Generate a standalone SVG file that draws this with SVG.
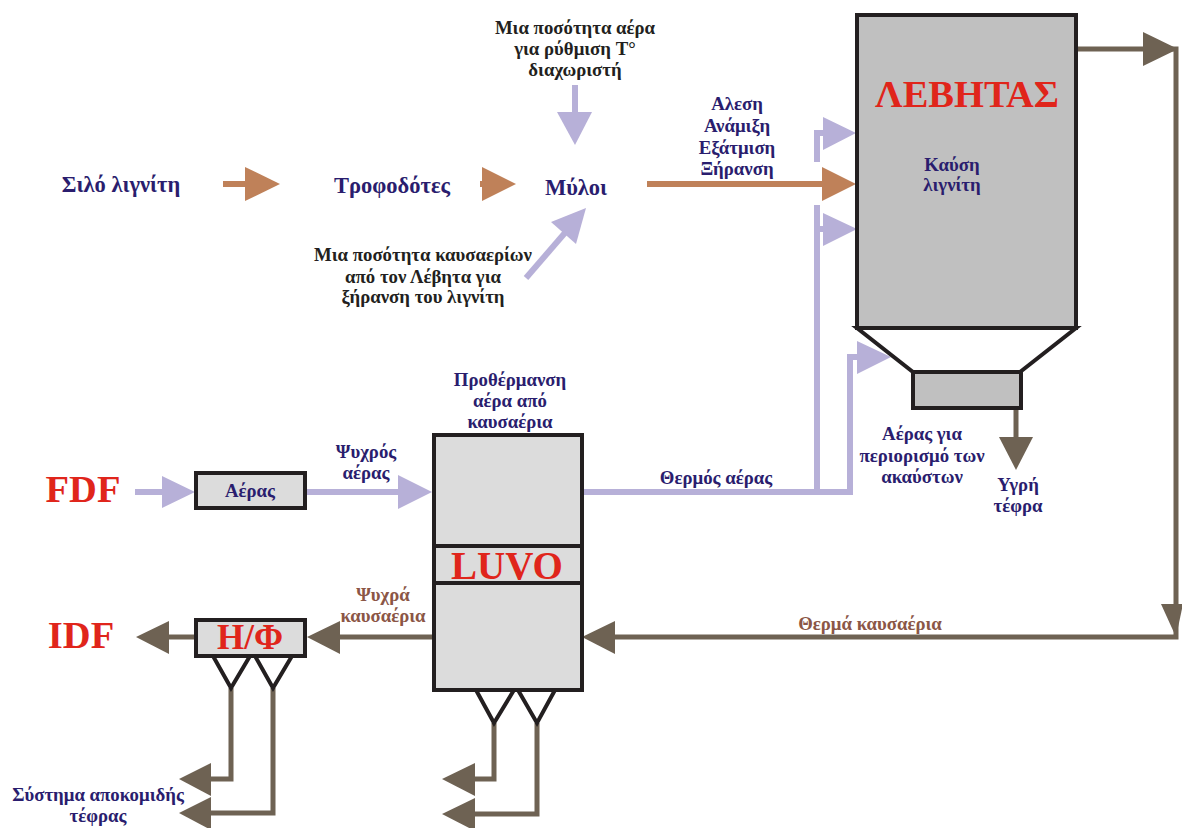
<svg xmlns="http://www.w3.org/2000/svg" width="1182" height="828" viewBox="0 0 1182 828">
<style>
text{font-family:"Liberation Serif","Times New Roman",serif;font-weight:bold;text-anchor:middle}
.nv{fill:#2a1d6e;font-size:22.5px}
.sm{fill:#2a1d6e;font-size:18.8px}
.bk{fill:#231f20;font-size:18.8px}
.br{fill:#8b5646;font-size:18.8px}
.red{fill:#e0251b}
.box{stroke:#231f20;stroke-width:4}
.lav{stroke:#b7b0d8;stroke-width:6;fill:none}
.lavf{fill:#b7b0d8}
.or{stroke:#bf8159;stroke-width:6;fill:none}
.orf{fill:#bf8159}
.gr{stroke:#6e6253;stroke-width:5;fill:none}
.grf{fill:#6e6253}
.fun{stroke:#231f20;stroke-width:4;fill:none}
</style>
<rect width="1182" height="828" fill="#fff"/>
<g id="connectors">
  <line class="or" x1="223" y1="184" x2="250" y2="184"/>
  <polygon class="orf" points="245,167 280,184 245,201"/>
  <line class="or" x1="480" y1="184" x2="486" y2="184"/>
  <polygon class="orf" points="482,167 516,184 482,201"/>
  <line class="or" x1="647" y1="184" x2="828" y2="184"/>
  <polygon class="orf" points="822,167 856,184 822,201"/>
  <line class="lav" x1="575" y1="85" x2="575" y2="116"/>
  <polygon class="lavf" points="557,112 592,112 575,145"/>
  <line class="lav" x1="526" y1="278" x2="570" y2="227"/>
  <polygon class="lavf" points="586,208 576,244 551,222"/>
  <line class="lav" x1="135" y1="492" x2="166" y2="492"/>
  <polygon class="lavf" points="162,476 195,492 162,508"/>
  <line class="lav" x1="305" y1="492" x2="402" y2="492"/>
  <polygon class="lavf" points="398,475 432,492 398,509"/>
  <polyline class="lav" points="582,492 850,492 850,357 860,357"/>
  <polygon class="lavf" points="857,341 891,357 857,374"/>
  <line class="lav" x1="817" y1="205" x2="817" y2="492"/>
  <line class="lav" x1="817" y1="229" x2="828" y2="229"/>
  <polygon class="lavf" points="823,213 857,229 823,246"/>
  <polyline class="lav" points="817,162 817,133 828,133"/>
  <polygon class="lavf" points="823,117 856,133 823,150"/>
  <polyline class="gr" points="1075,49 1176,49 1176,637 612,637"/>
  <polygon class="grf" points="1143,32 1178,49 1143,66"/>
  <polygon class="grf" points="1161,604 1183,604 1176,637"/>
  <polygon class="grf" points="615,621 582,637 615,654"/>
  <line class="gr" x1="1016" y1="408" x2="1016" y2="440"/>
  <polygon class="grf" points="999,437 1033,437 1016,470"/>
  <line class="gr" x1="434" y1="637" x2="336" y2="637"/>
  <polygon class="grf" points="340,621 307,637 340,654"/>
  <line class="gr" x1="196" y1="637" x2="165" y2="637"/>
  <polygon class="grf" points="169,621 136,637 169,654"/>
  <polyline class="gr" points="231,688 231,779 206,779"/>
  <polygon class="grf" points="211,763 179,779 211,796"/>
  <polyline class="gr" points="273,688 273,813 206,813"/>
  <polygon class="grf" points="211,797 179,813 211,830"/>
  <polyline class="gr" points="494,723 494,779 470,779"/>
  <polygon class="grf" points="475,763 442,779 475,796"/>
  <polyline class="gr" points="537,723 537,814 470,814"/>
  <polygon class="grf" points="475,798 442,814 475,831"/>
</g>
<g id="silo"><text class="nv" x="121" y="192">Σιλό λιγνίτη</text></g>
<g id="feeder"><text class="nv" x="392" y="193">Τροφοδότες</text></g>
<g id="mills"><text class="nv" x="576" y="195">Μύλοι</text></g>
<g id="air-top"><text class="bk" x="575" y="34">Μια ποσότητα αέρα</text><text class="bk" x="575" y="55">για ρύθμιση T°</text><text class="bk" x="575" y="76">διαχωριστή</text></g>
<g id="fluegas-top"><text class="bk" x="423" y="261">Μια ποσότητα καυσαερίων</text><text class="bk" x="423" y="283">από τον Λέβητα για</text><text class="bk" x="423" y="303">ξήρανση του λιγνίτη</text></g>
<g id="process"><text class="sm" x="737" y="110">Αλεση</text><text class="sm" x="737" y="132">Ανάμιξη</text><text class="sm" x="737" y="154">Εξάτμιση</text><text class="sm" x="737" y="175">Ξήρανση</text></g>
<g id="boiler">
  <rect class="box" x="857" y="15" width="219" height="313" fill="#c0c0c0"/>
  <polygon points="857,328 1076,328 1020,372 913,372" fill="#fff" stroke="#231f20" stroke-width="4"/>
  <rect class="box" x="913" y="372" width="108" height="36" fill="#c0c0c0"/>
  <text class="red" x="967" y="107" font-size="38.5">ΛΕΒΗΤΑΣ</text>
  <text class="sm" x="952" y="171">Καύση</text>
  <text class="sm" x="952" y="191">λιγνίτη</text>
</g>
<g id="air-unburnt"><text class="sm" x="922" y="440">Αέρας για</text><text class="sm" x="922" y="462">περιορισμό των</text><text class="sm" x="922" y="483">ακαύστων</text></g>
<g id="wet-ash"><text class="sm" x="1018" y="491">Υγρή</text><text class="sm" x="1018" y="512">τέφρα</text></g>
<g id="hot-air"><text class="sm" x="716" y="484">Θερμός αέρας</text></g>
<g id="hot-gas"><text class="br" x="870" y="630">Θερμά καυσαέρια</text></g>
<g id="fdf"><text class="red" x="83" y="502" font-size="38.5">FDF</text></g>
<g id="air-box"><rect class="box" x="196" y="473" width="109" height="35" fill="#dcdcdc"/><text class="sm" x="250" y="497" font-size="18">Αέρας</text></g>
<g id="cold-air"><text class="sm" x="366" y="458">Ψυχρός</text><text class="sm" x="366" y="479">αέρας</text></g>
<g id="preheat"><text class="sm" x="510" y="386">Προθέρμανση</text><text class="sm" x="510" y="407">αέρα από</text><text class="sm" x="510" y="428">καυσαέρια</text></g>
<g id="luvo">
  <rect class="box" x="434" y="435" width="148" height="255" fill="#dcdcdc"/>
  <line class="box" x1="434" y1="546" x2="582" y2="546"/>
  <line class="box" x1="434" y1="583" x2="582" y2="583"/>
  <text class="red" x="507" y="579" font-size="39">LUVO</text>
  <polyline class="fun" points="476,690 494,723 514,690"/>
  <polyline class="fun" points="518,690 537,723 555,690"/>
</g>
<g id="cold-gas"><text class="br" x="383" y="601">Ψυχρά</text><text class="br" x="383" y="622">καυσαέρια</text></g>
<g id="esp">
  <rect class="box" x="196" y="620" width="109" height="36" fill="#dcdcdc"/>
  <text class="red" x="250" y="649" font-size="35">Η/Φ</text>
  <polyline class="fun" points="213,656 231,688 250,656"/>
  <polyline class="fun" points="255,656 273,688 292,656"/>
</g>
<g id="idf"><text class="red" x="81" y="648" font-size="38.5">IDF</text></g>
<g id="ash-system"><text class="sm" x="98" y="801">Σύστημα αποκομιδής</text><text class="sm" x="98" y="822">τέφρας</text></g>
</svg>
